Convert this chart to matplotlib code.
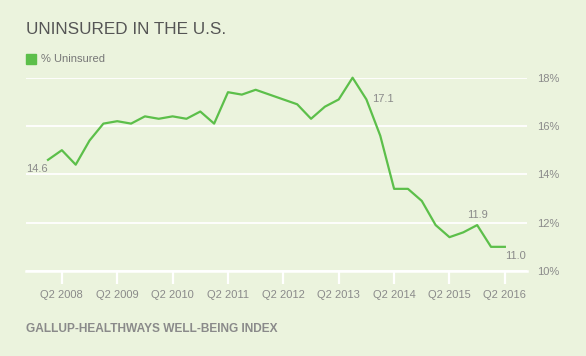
import matplotlib.pyplot as plt

# quarterly % uninsured, Q1 2008 .. Q2 2016
quarters = [f"Q{q} {y}" for y in range(2008, 2017) for q in range(1, 5)][:34]
uninsured = [
    14.6, 15.0, 14.4, 15.4,
    16.1, 16.2, 16.1, 16.4,
    16.3, 16.4, 16.3, 16.6,
    16.1, 17.4, 17.3, 17.5,
    17.3, 17.1, 16.9, 16.3,
    16.8, 17.1, 18.0, 17.1,
    15.6, 13.4, 13.4, 12.9,
    11.9, 11.4, 11.6, 11.9,
    11.0, 11.0,
]
tick_labels = ["Q2 2008", "Q2 2009", "Q2 2010", "Q2 2011", "Q2 2012",
               "Q2 2013", "Q2 2014", "Q2 2015", "Q2 2016"]
y_ticks = [10, 12, 14, 16, 18]
labelled = {"Q1 2008": "14.6", "Q4 2013": "17.1", "Q4 2015": "11.9", "Q2 2016": "11.0"}

BG = "#ebf3dd"
GREEN = "#5cbf4a"
GRAY = "#8a8a8a"
plt.rcParams["font.family"] = ["Liberation Sans", "DejaVu Sans"]

fig = plt.figure(figsize=(5.86, 3.56), dpi=100, facecolor=BG)
ax = fig.add_axes([26 / 586, 1 - 271 / 356, 501 / 586, 193.3 / 356])
ax.set_facecolor(BG)

x = list(range(len(uninsured)))
ax.plot(x, uninsured, color=GREEN, linewidth=1.6, clip_on=False, zorder=3)

ax.set_xlim(-1.59, 34.6)
ax.set_ylim(10, 18)

tick_pos = [quarters.index(t) for t in tick_labels]
ax.set_xticks(tick_pos)
ax.set_xticklabels(tick_labels)
ax.tick_params(axis="x", length=9, width=1.6, color="white", pad=5,
               labelsize=8, labelcolor=GRAY)

ax.yaxis.tick_right()
ax.set_yticks(y_ticks)
ax.set_yticklabels([f"{v}%" for v in y_ticks])
ax.tick_params(axis="y", length=0, pad=7.5, labelsize=8, labelcolor=GRAY)
for lab in ax.get_yticklabels():
    lab.set_horizontalalignment("left")

ax.grid(axis="y", color="white", linewidth=1.3)
ax.set_axisbelow(True)
for side in ["left", "right", "top"]:
    ax.spines[side].set_visible(False)
ax.spines["bottom"].set_color("white")
ax.spines["bottom"].set_linewidth(1.8)

# value callouts
offsets = {
    "Q1 2008": ((0, -6.5), "right"),
    "Q4 2013": ((4, 0), "left"),
    "Q4 2015": ((0, 7), "center"),
    "Q2 2016": ((0.5, -6.5), "left"),
}
for q, txt in labelled.items():
    i = quarters.index(q)
    off, ha = offsets[q]
    ax.annotate(txt, (i, uninsured[i]), xytext=off, textcoords="offset points",
                ha=ha, va="center", fontsize=8, color=GRAY)

fig.text(26 / 586, 1 - 30 / 356, "UNINSURED IN THE U.S.", fontsize=12.3,
         color="#555555", va="center", ha="left")
fig.patches.append(plt.Rectangle((26 / 586, 1 - 64.3 / 356), 10 / 586, 10 / 356,
                                 transform=fig.transFigure, color=GREEN))
fig.text(41 / 586, 1 - 59.5 / 356, "% Uninsured", fontsize=8, color="#777777",
         va="center", ha="left")
fig.text(26 / 586, 1 - 329 / 356, "GALLUP-HEALTHWAYS WELL-BEING INDEX",
         fontsize=8.6, color=GRAY, va="center", ha="left", fontweight="bold")

fig.savefig("out.png", dpi=100, facecolor=BG)
